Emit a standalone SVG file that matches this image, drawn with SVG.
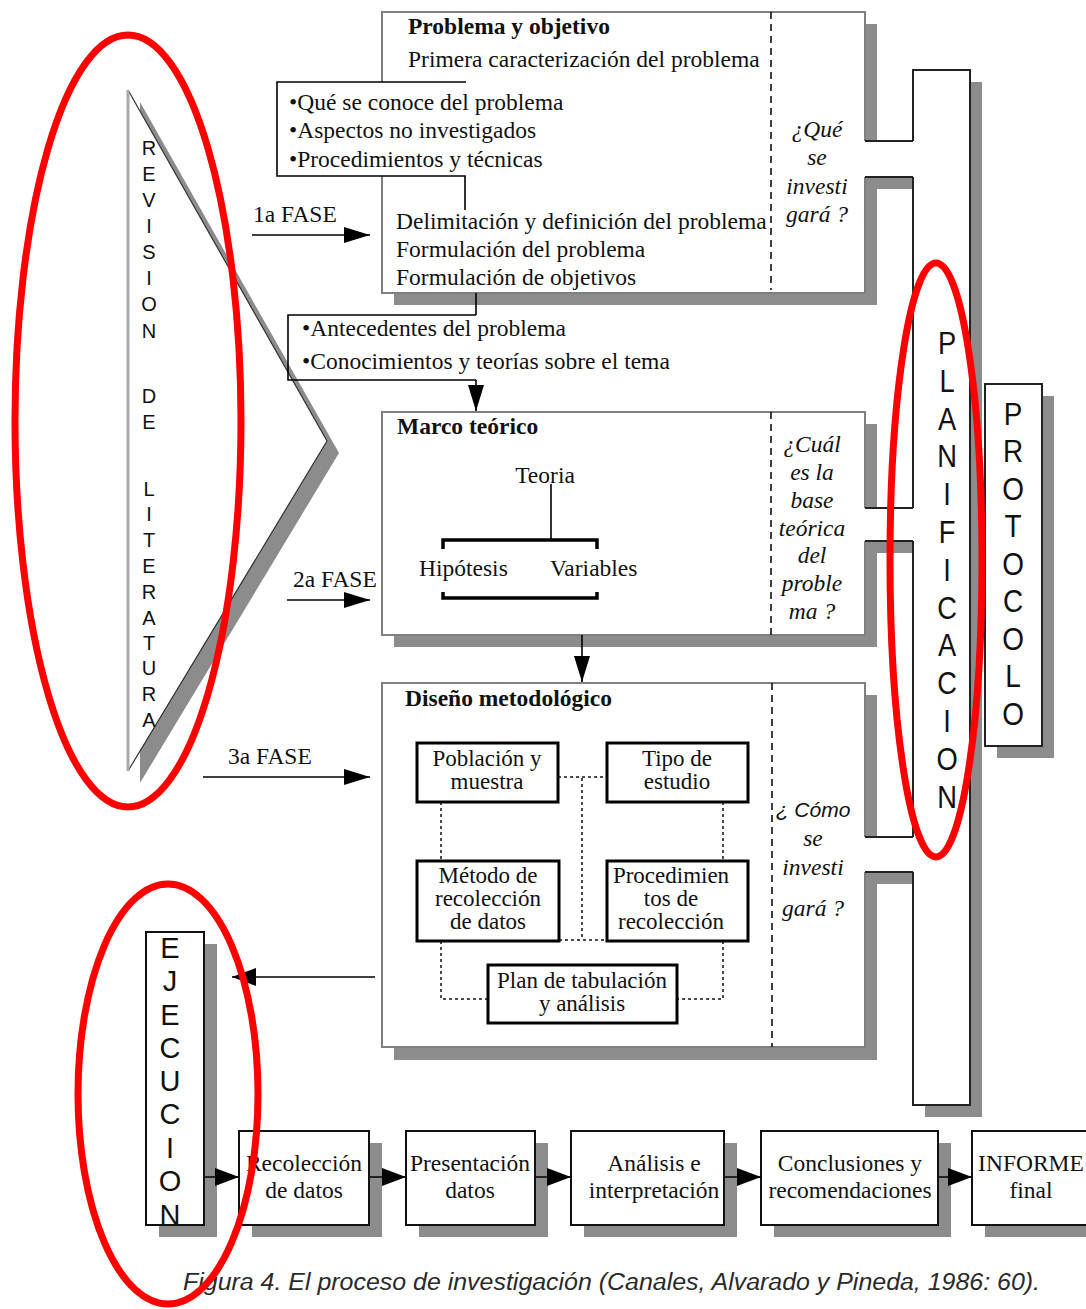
<svg xmlns="http://www.w3.org/2000/svg" width="1086" height="1309" viewBox="0 0 1086 1309">
<style>
.serif{font-family:"Liberation Serif","Times New Roman",serif;font-size:23.5px;fill:#111}
.sm{font-size:23px}
.b{font-weight:bold}
.it{font-style:italic}
.mid{text-anchor:middle}
.sans{font-family:"Liberation Sans",Arial,sans-serif;fill:#111}
.shadow{fill:#8c8c8c}
.white{fill:#fff}
.boxedge{fill:none;stroke:#7f7f7f;stroke-width:2}
.edge{fill:none;stroke:#222;stroke-width:2}
.dash{fill:none;stroke:#111;stroke-width:1.6;stroke-dasharray:7 5}
.dot{fill:none;stroke:#111;stroke-width:1.5;stroke-dasharray:3 3}
.ib{fill:#fff;stroke:#000;stroke-width:3}
.bb{fill:#fff;stroke:#111;stroke-width:2}
.line{fill:none;stroke:#000;stroke-width:1.6}
.thick{fill:none;stroke:#000;stroke-width:3.5}
.red{fill:none;stroke:#f00;stroke-width:7}
.cap{font-family:"Liberation Sans",Arial,sans-serif;font-style:italic;font-size:23px;fill:#2a2a2a}
</style>
<defs>
<marker id="ah" markerUnits="userSpaceOnUse" markerWidth="26" markerHeight="16" refX="26" refY="8" orient="auto" overflow="visible"><path d="M0,0 L26,8 L0,16 z" fill="#000"/></marker>
<marker id="ah2" markerUnits="userSpaceOnUse" markerWidth="24" markerHeight="18" refX="24" refY="9" orient="auto" overflow="visible"><path d="M0,0 L24,9 L0,18 z" fill="#000"/></marker>
</defs>
<rect width="1086" height="1309" fill="#fff"/>

<g id="revision">
<polygon class="shadow" points="140,102 339,453 140,783"/>
<polygon class="white" points="128,90 327,441 128,771"/>
<path d="M128,90 L327,441 L128,771" fill="none" stroke="#333" stroke-width="1.2"/>
<line x1="128" y1="90" x2="128" y2="771" stroke="#aaa" stroke-width="3"/>
<text class="sans mid" font-size="20" x="149"><tspan x="149" y="155">R</tspan><tspan x="149" y="181">E</tspan><tspan x="149" y="207">V</tspan><tspan x="149" y="233">I</tspan><tspan x="149" y="259">S</tspan><tspan x="149" y="285">I</tspan><tspan x="149" y="311">O</tspan><tspan x="149" y="338">N</tspan></text>
<text class="sans mid" font-size="20" x="149"><tspan x="149" y="403">D</tspan><tspan x="149" y="429">E</tspan></text>
<text class="sans mid" font-size="20" x="149"><tspan x="149" y="496">L</tspan><tspan x="149" y="521">I</tspan><tspan x="149" y="547">T</tspan><tspan x="149" y="573">E</tspan><tspan x="149" y="599">R</tspan><tspan x="149" y="625">A</tspan><tspan x="149" y="650">T</tspan><tspan x="149" y="675">U</tspan><tspan x="149" y="701">R</tspan><tspan x="149" y="727">A</tspan></text>
</g>

<g id="problema">
<rect class="shadow" x="394" y="24" width="483" height="281"/>
<rect class="shadow" x="877" y="153" width="48" height="36"/>
<rect class="white" x="382" y="12" width="483" height="281"/>
<rect class="white" x="864" y="141" width="50" height="36"/>
<path class="boxedge" d="M865,141 V12 H382 V293 H865 V177"/>
<path class="edge" d="M865,141 H913 M865,177 H913"/>
<line class="dash" x1="771" y1="12" x2="771" y2="290"/>
<text class="serif b" x="408" y="34">Problema y objetivo</text>
<text class="serif" x="408" y="67">Primera caracterización del problema</text>
<text class="serif" x="396" y="229">Delimitación y definición del problema</text>
<text class="serif" x="396" y="257">Formulación del problema</text>
<text class="serif" x="396" y="285">Formulación de objetivos</text>
<text class="serif it mid" x="817" y="137">¿Qué</text>
<text class="serif it mid" x="817" y="165">se</text>
<text class="serif it mid" x="817" y="194">investi</text>
<text class="serif it mid" x="817" y="222">gará ?</text>
</g>

<g id="conoce">
<rect class="white" x="277" y="82" width="189" height="94"/>
<path class="line" d="M466,82 H277 V176 H465 V210"/>
<text class="serif" x="289" y="110">•Qué se conoce del problema</text>
<text class="serif" x="289" y="138">•Aspectos no investigados</text>
<text class="serif" x="289" y="167">•Procedimientos y técnicas</text>
</g>

<g id="antecedentes">
<path class="line" d="M476,315 H288 V380 H476"/>
<text class="serif" x="302" y="336">•Antecedentes del problema</text>
<text class="serif" x="302" y="369">•Conocimientos y teorías sobre el tema</text>
</g>

<g id="marco">
<rect class="shadow" x="394" y="424" width="483" height="223"/>
<rect class="shadow" x="877" y="520" width="48" height="33"/>
<rect class="white" x="382" y="412" width="483" height="223"/>
<rect class="white" x="864" y="508" width="50" height="33"/>
<path class="boxedge" d="M865,508 V412 H382 V635 H865 V541"/>
<path class="edge" d="M865,508 H913 M865,541 H913"/>
<line class="dash" x1="771" y1="412" x2="771" y2="635"/>
<text class="serif b" x="397" y="434">Marco teórico</text>
<text class="serif mid" x="545" y="483">Teoria</text>
<line class="line" x1="551" y1="484" x2="551" y2="540"/>
<path class="thick" d="M443,549 V540 H597 V549"/>
<text class="serif" x="419" y="576">Hipótesis</text>
<text class="serif" x="550" y="576">Variables</text>
<path class="thick" d="M443,592 V598 H597 V592"/>
<text class="serif it mid" x="812" y="452">¿Cuál</text>
<text class="serif it mid" x="812" y="480">es la</text>
<text class="serif it mid" x="812" y="508">base</text>
<text class="serif it mid" x="812" y="536">teórica</text>
<text class="serif it mid" x="812" y="563">del</text>
<text class="serif it mid" x="812" y="591">proble</text>
<text class="serif it mid" x="812" y="619">ma ?</text>
</g>

<g id="diseno">
<rect class="shadow" x="394" y="695" width="483" height="365"/>
<rect class="shadow" x="877" y="849" width="48" height="35"/>
<rect class="white" x="382" y="683" width="483" height="364"/>
<rect class="white" x="864" y="837" width="50" height="35"/>
<path class="boxedge" d="M865,837 V683 H382 V1047 H865 V872"/>
<path class="edge" d="M865,837 H913 M865,872 H913"/>
<line class="dash" x1="772" y1="683" x2="772" y2="1047"/>
<text class="serif b" x="405" y="706">Diseño metodológico</text>
<g class="dotted">
<path class="dot" d="M558,777 H607"/>
<path class="dot" d="M582,778 V940 M559,940 H607"/>
<path class="dot" d="M441,802 V861 M723,802 V861"/>
<path class="dot" d="M441,941 V999 H488 M723,941 V999 H677"/>
</g>
<g id="poblacion">
<rect class="ib" x="417" y="743" width="141" height="59"/>
<text class="serif sm mid" x="487" y="766">Población y</text>
<text class="serif sm mid" x="487" y="789">muestra</text>
</g>
<g id="tipo">
<rect class="ib" x="607" y="743" width="141" height="59"/>
<text class="serif sm mid" x="677" y="766">Tipo de</text>
<text class="serif sm mid" x="677" y="789">estudio</text>
</g>
<g id="metodo">
<rect class="ib" x="417" y="861" width="142" height="80"/>
<text class="serif sm mid" x="488" y="883">Método de</text>
<text class="serif sm mid" x="488" y="906">recolección</text>
<text class="serif sm mid" x="488" y="929">de datos</text>
</g>
<g id="procedimientos">
<rect class="ib" x="607" y="861" width="141" height="80"/>
<text class="serif sm mid" x="671" y="883">Procedimien</text>
<text class="serif sm mid" x="671" y="906">tos de</text>
<text class="serif sm mid" x="671" y="929">recolección</text>
</g>
<g id="plan">
<rect class="ib" x="488" y="965" width="189" height="58"/>
<text class="serif sm mid" x="582" y="988">Plan de tabulación</text>
<text class="serif sm mid" x="582" y="1011">y análisis</text>
</g>
<text class="sans it mid" font-size="21" x="813" y="817">¿ Cómo</text>
<text class="serif it mid" x="813" y="846">se</text>
<text class="serif it mid" x="813" y="875">investi</text>
<text class="serif it mid" x="813" y="916">gará ?</text>
</g>

<g id="planificacion">
<rect class="shadow" x="925" y="82" width="57" height="1035"/>
<rect class="white" x="913" y="70" width="57" height="1035"/>
<path class="edge" d="M913,141 V70 H970 V1105 H913 V872 M913,837 V541 M913,508 V177"/>
<text class="sans mid" font-size="31" transform="translate(947 0) scale(0.88 1)"><tspan x="0" y="354">P</tspan><tspan x="0" y="392">L</tspan><tspan x="0" y="430">A</tspan><tspan x="0" y="467">N</tspan><tspan x="0" y="505">I</tspan><tspan x="0" y="543">F</tspan><tspan x="0" y="581">I</tspan><tspan x="0" y="619">C</tspan><tspan x="0" y="656">A</tspan><tspan x="0" y="694">C</tspan><tspan x="0" y="732">I</tspan><tspan x="0" y="770">O</tspan><tspan x="0" y="808">N</tspan></text>
</g>

<g id="protocolo">
<rect class="shadow" x="997" y="396" width="57" height="362"/>
<rect x="985" y="384" width="57" height="362" fill="#fff" stroke="#222" stroke-width="2"/>
<text class="sans mid" font-size="31" transform="translate(1013 0) scale(0.9 1)"><tspan x="0" y="425">P</tspan><tspan x="0" y="462">R</tspan><tspan x="0" y="500">O</tspan><tspan x="0" y="537">T</tspan><tspan x="0" y="575">O</tspan><tspan x="0" y="612">C</tspan><tspan x="0" y="650">O</tspan><tspan x="0" y="687">L</tspan><tspan x="0" y="725">O</tspan></text>
</g>

<g id="ejecucion">
<rect class="shadow" x="159" y="944" width="58" height="293"/>
<rect x="146" y="932" width="58" height="293" fill="#fff" stroke="#111" stroke-width="2"/>
<text class="sans mid" font-size="29"><tspan x="170" y="958">E</tspan><tspan x="170" y="991">J</tspan><tspan x="170" y="1025">E</tspan><tspan x="170" y="1058">C</tspan><tspan x="170" y="1091">U</tspan><tspan x="170" y="1124">C</tspan><tspan x="170" y="1158">I</tspan><tspan x="170" y="1191">O</tspan><tspan x="170" y="1225">N</tspan></text>
</g>

<g id="recoleccion">
<rect class="shadow" x="252" y="1143" width="130" height="94"/>
<rect class="bb" x="239" y="1131" width="130" height="94"/>
<text class="serif mid" x="304" y="1171">Recolección</text>
<text class="serif mid" x="304" y="1198">de datos</text>
</g>
<g id="presentacion">
<rect class="shadow" x="419" y="1143" width="129" height="94"/>
<rect class="bb" x="406" y="1131" width="129" height="94"/>
<text class="serif mid" x="470" y="1171">Presentación</text>
<text class="serif mid" x="470" y="1198">datos</text>
</g>
<g id="analisis">
<rect class="shadow" x="584" y="1143" width="153" height="94"/>
<rect class="bb" x="571" y="1131" width="153" height="94"/>
<text class="serif mid" x="654" y="1171">Análisis e</text>
<text class="serif mid" x="654" y="1198">interpretación</text>
</g>
<g id="conclusiones">
<rect class="shadow" x="774" y="1143" width="177" height="94"/>
<rect class="bb" x="761" y="1131" width="177" height="94"/>
<text class="serif mid" x="850" y="1171">Conclusiones y</text>
<text class="serif mid" x="850" y="1198">recomendaciones</text>
</g>
<g id="informe">
<rect class="shadow" x="985" y="1143" width="120" height="94"/>
<rect class="bb" x="972" y="1131" width="130" height="94"/>
<text class="serif mid" x="1031" y="1171">INFORME</text>
<text class="serif mid" x="1031" y="1198">final</text>
</g>

<g id="connectors">
<line class="line" x1="476" y1="293" x2="476" y2="315"/>
<line class="line" x1="476" y1="380" x2="476" y2="411" marker-end="url(#ah)"/>
<line class="line" x1="582" y1="635" x2="582" y2="682" marker-end="url(#ah)"/>
<line class="line" x1="252" y1="235" x2="370" y2="235" marker-end="url(#ah)"/>
<text class="serif" x="253" y="222">1a FASE</text>
<line class="line" x1="287" y1="600" x2="370" y2="600" marker-end="url(#ah)"/>
<text class="serif" x="293" y="587">2a FASE</text>
<line class="line" x1="203" y1="777" x2="370" y2="777" marker-end="url(#ah)"/>
<text class="serif" x="228" y="764">3a FASE</text>
<line class="line" x1="375" y1="977" x2="232" y2="977" marker-end="url(#ah2)"/>
<line class="line" x1="205" y1="1177" x2="239" y2="1177" marker-end="url(#ah2)"/>
<line class="line" x1="370" y1="1177" x2="406" y2="1177" marker-end="url(#ah2)"/>
<line class="line" x1="536" y1="1177" x2="571" y2="1177" marker-end="url(#ah2)"/>
<line class="line" x1="725" y1="1177" x2="761" y2="1177" marker-end="url(#ah2)"/>
<line class="line" x1="939" y1="1177" x2="972" y2="1177" marker-end="url(#ah2)"/>
</g>

<text class="cap" x="183" y="1290" textLength="857" lengthAdjust="spacingAndGlyphs">Figura 4. El proceso de investigación (Canales, Alvarado y Pineda, 1986: 60).</text>

<g id="annotations">
<ellipse class="red" cx="128" cy="421" rx="113" ry="386"/>
<ellipse class="red" cx="936" cy="560" rx="46" ry="297" stroke-width="6"/>
<ellipse class="red" cx="168" cy="1094" rx="90" ry="210"/>
</g>
</svg>
